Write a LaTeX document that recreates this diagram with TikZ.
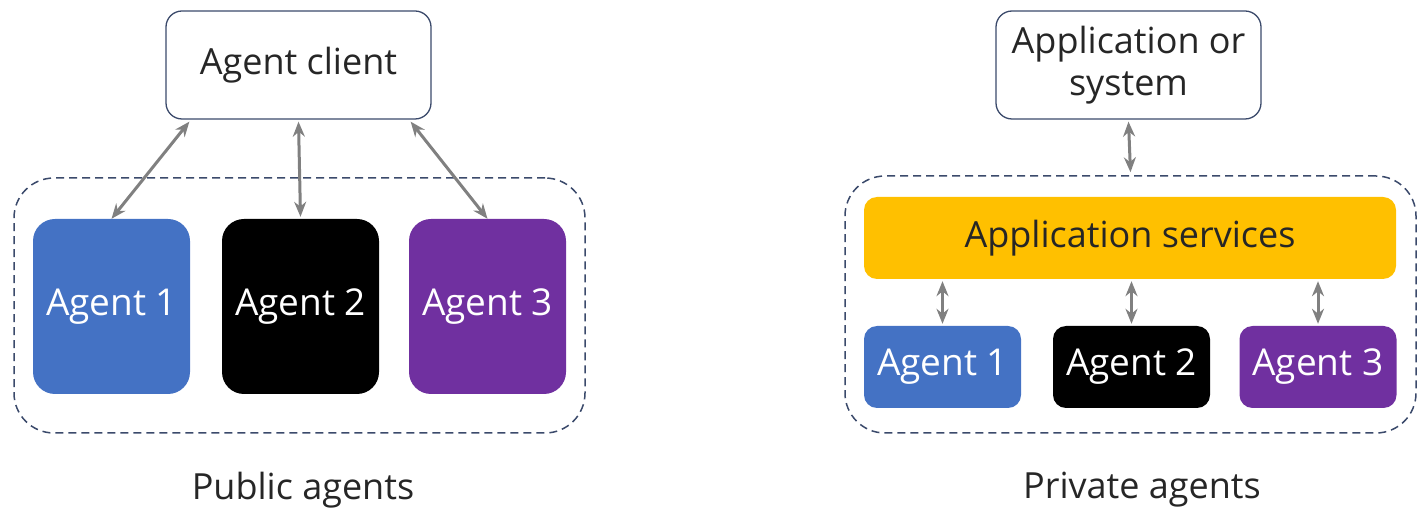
\documentclass[tikz,border=0pt]{standalone}
\usepackage{fontspec}
\setmainfont{Open Sans}
\usepackage{tikz}
\usetikzlibrary{arrows.meta}
\usepackage{xcolor}
\definecolor{ColLine}{RGB}{59,74,107}
\definecolor{ColArrow}{RGB}{128,128,128}
\definecolor{ColBlue}{RGB}{68,114,196}
\definecolor{ColPurple}{RGB}{112,48,160}
\definecolor{ColGold}{RGB}{255,192,0}
\tikzstyle{BoxTop}=[draw=ColLine,line width=1.3pt,rounded corners=16pt,fill=white,inner sep=0pt,
minimum width=265pt,minimum height=108pt,align=center,text=black!85,font=\fontsize{36}{42}\selectfont]
\tikzstyle{BoxAgent}=[rounded corners=22pt,inner sep=0pt,minimum width=157pt,minimum height=175pt,
text=white,font=\fontsize{37}{42}\selectfont]
\tikzstyle{BoxSmall}=[rounded corners=13pt,inner sep=0pt,minimum width=157pt,minimum height=82pt,
text=white,font=\fontsize{37}{42}\selectfont]
\tikzstyle{BoxGroup}=[draw=ColLine,line width=1.5pt,dash pattern=on 8pt off 5pt,rounded corners=40pt,
inner sep=0pt]
\tikzstyle{EdgeArrow}=[ColArrow,line width=3pt,{Stealth[length=15pt,width=12pt]}-{Stealth[length=15pt,width=12pt]}]
\tikzstyle{Caption}=[font=\fontsize{36}{42}\selectfont,text=black!85]

\begin{document}
\begin{tikzpicture}[x=1pt,y=-1pt]
        \useasboundingbox(0,0)rectangle(1425,510);
        % public agents
        \node[BoxGroup,minimum width=571pt,minimum height=255pt](pub)at(299.5,305.5){};
        \node[BoxTop](client)at(298.5,65){Agent client};
        \node[BoxAgent,fill=ColBlue](ag1)at(111.5,306.5){Agent 1};
        \node[BoxAgent,fill=black](ag2)at(300.5,306.5){Agent 2};
        \node[BoxAgent,fill=ColPurple](ag3)at(487.5,306.5){Agent 3};
        \draw[EdgeArrow]([xshift=24pt,yshift=-2pt]client.south west)--(ag1.north);
        \draw[EdgeArrow]([yshift=-2pt]client.south)--([yshift=2pt]ag2.north);
        \draw[EdgeArrow]([xshift=-21pt,yshift=-2pt]client.south east)--(ag3.north);
        \node[Caption](pubcap)at(303,490){Public agents};
        % private agents
        \node[BoxGroup,minimum width=571pt,minimum height=257pt](priv)at(1130.5,304.5){};
        \node[BoxTop](sys)at(1128.5,65){Application or\\system};
        \node[rounded corners=13pt,fill=ColGold,minimum width=532pt,minimum height=82pt,
        inner sep=0pt,text=black!85,font=\fontsize{36}{42}\selectfont](svc)at(1130,238){Application services};
        \node[BoxSmall,fill=ColBlue](pa1)at(942.5,367){Agent 1};
        \node[BoxSmall,fill=black](pa2)at(1131.5,367){Agent 2};
        \node[BoxSmall,fill=ColPurple](pa3)at(1318,367){Agent 3};
        \draw[EdgeArrow]([yshift=-2pt]sys.south)--([yshift=3pt]priv.north);
        \foreach \a in {pa1,pa2,pa3}{
        \draw[EdgeArrow]([yshift=-2pt]svc.south -| \a)--([yshift=2pt]\a.north);}
        \node[Caption](privcap)at(1142,490){Private agents};
    \end{tikzpicture}
\end{document}
